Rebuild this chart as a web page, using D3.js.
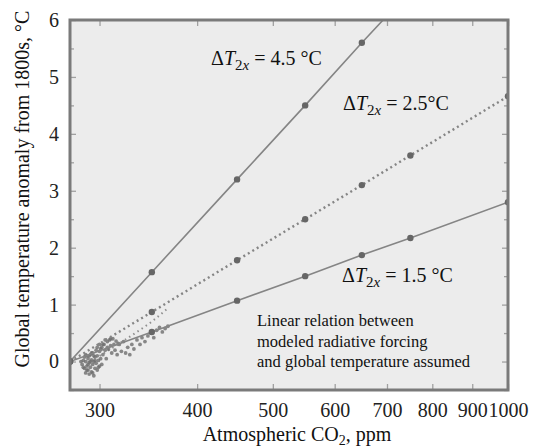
<!DOCTYPE html>
<html><head><meta charset="utf-8">
<script src="https://cdn.jsdelivr.net/npm/d3@7"></script>
<style>
body{margin:0;background:#fff}
svg{display:block}
svg text{font-family:"Liberation Serif","Times New Roman",serif}
</style>
</head><body>
<svg id="c" width="538" height="447"></svg>
<script>
// ---- data ----
const xTicks = [300, 400, 500, 600, 700, 800, 900, 1000];
const yTicks = [0, 1, 2, 3, 4, 5, 6];
const yMinorTicks = [-0.5, 0.5, 1.5, 2.5, 3.5, 4.5, 5.5];

const co2_45 = [275, 350, 450, 550, 650, 692];
const t_45   = [0, 1.57, 3.2, 4.5, 5.6, 6.0];
const marks_45 = [275, 350, 450, 550, 650];

const co2_25 = [275, 350, 450, 550, 650, 750, 1000];
const t_25   = [0, 0.87, 1.78, 2.5, 3.1, 3.62, 4.66];

const co2_15 = [275, 350, 450, 550, 650, 750, 1000];
const t_15   = [0, 0.52, 1.07, 1.5, 1.87, 2.17, 2.8];

const obsCO2 = [284,285,286,286,287,287,288,288,288,289,289,289,290,290,290,291,291,291,292,292,292,293,293,293,294,294,294,295,295,295,296,296,296,297,297,298,298,298,299,299,300,300,300,301,301,302,302,303,303,304,305,305,306,307,307,308,309,310,310,311,312,313,314,315,316,317,318,320,322,324,326,328,330,332,335,338,340,343,346,349,352,355,358,361,364,367];
const obsT   = [0.0,-0.05,0.02,-0.1,-0.12,0.08,-0.2,0.0,0.12,-0.08,0.1,-0.15,-0.15,0.05,-0.05,-0.02,-0.22,0.1,0.12,-0.1,0.0,0.03,-0.18,0.15,0.15,-0.05,-0.2,0.0,-0.25,0.1,0.08,-0.12,0.02,0.2,-0.03,-0.15,0.1,0.25,0.02,-0.1,-0.08,0.18,0.3,0.05,0.22,0.25,-0.05,0.12,0.3,0.3,0.2,0.38,0.05,0.35,0.25,0.22,0.38,0.28,0.4,0.15,0.4,0.3,0.2,0.36,0.12,0.32,0.3,0.18,0.35,0.15,0.25,0.12,0.3,0.22,0.38,0.3,0.42,0.35,0.45,0.5,0.42,0.55,0.6,0.52,0.58,0.62];

const transCO2 = [300, 310, 320, 330, 340, 350, 360, 367];
const transT   = [0.1, 0.22, 0.34, 0.46, 0.58, 0.7, 0.84, 0.94];

const seriesLabels = ["= 4.5 °C", "= 2.5°C", "= 1.5 °C"];
const noteLines = ["Linear relation between", "modeled radiative forcing", "and global temperature assumed"];
const xTitle = "Atmospheric CO";
const yTitle = "Global temperature anomaly from 1800s, °C";

// ---- layout ----
const W = 538, H = 447;
const m = {l: 70, t: 20, r: 30, b: 57};
const FONT = '"Liberation Serif","Times New Roman",serif';
const svg = d3.select("#c");
const x = d3.scaleLog().domain([275, 1000]).range([m.l, W - m.r]);
const y = d3.scaleLinear().domain([-0.5, 6]).range([H - m.b, m.t]);
const frame = "#7a7a7a";

svg.append("rect").attr("x", m.l).attr("y", m.t)
  .attr("width", W - m.l - m.r).attr("height", H - m.t - m.b).attr("fill", "#ececec");

svg.append("clipPath").attr("id", "clip").append("rect")
  .attr("x", m.l).attr("y", m.t).attr("width", W - m.l - m.r).attr("height", H - m.t - m.b);

const tickCol = "#a0a0a0";
function styleAxis(g){
  g.attr("font-family", FONT).attr("font-size", 20);
  g.select(".domain").remove();
  g.selectAll(".tick line").attr("stroke", tickCol).attr("stroke-width", 1.3);
  g.selectAll(".tick text").attr("fill", "#222");
}
svg.append("g").attr("transform", `translate(0,${H - m.b})`)
  .call(d3.axisBottom(x).tickValues(xTicks).tickFormat(d3.format("d")).tickSizeInner(-6).tickPadding(13))
  .call(styleAxis);
svg.append("g").attr("transform", `translate(0,${m.t})`)
  .call(d3.axisTop(x).tickValues(xTicks).tickFormat("").tickSizeInner(-6))
  .call(styleAxis);
svg.append("g").attr("transform", `translate(${m.l},0)`)
  .call(d3.axisLeft(y).tickValues(yTicks).tickFormat(d3.format("d")).tickSizeInner(-6).tickPadding(11))
  .call(styleAxis);
svg.append("g").attr("transform", `translate(${m.l},0)`)
  .call(d3.axisLeft(y).tickValues(yMinorTicks).tickFormat("").tickSizeInner(-4))
  .call(styleAxis);
svg.append("g").attr("transform", `translate(${W - m.r},0)`)
  .call(d3.axisRight(y).tickValues(yTicks).tickFormat("").tickSizeInner(-6))
  .call(styleAxis);
svg.append("g").attr("transform", `translate(${W - m.r},0)`)
  .call(d3.axisRight(y).tickValues(yMinorTicks).tickFormat("").tickSizeInner(-4))
  .call(styleAxis);

const plot = svg.append("g").attr("clip-path", "url(#clip)");

const line = d3.line().x(d => x(d[0])).y(d => y(d[1]));
plot.append("path").datum(transCO2.map((c, i) => [c, transT[i]])).attr("d", line)
  .attr("fill", "none").attr("stroke", "#8f8f8f").attr("stroke-width", 2).attr("stroke-dasharray", "1.5,3.5");

plot.selectAll("circle.obs").data(obsCO2.map((c, i) => [c, obsT[i]])).join("circle")
  .attr("class", "obs").attr("cx", d => x(d[0])).attr("cy", d => y(d[1])).attr("r", 1.9)
  .attr("fill", "#6e6e6e").attr("opacity", 0.8);

function series(co2, t, dash, markCO2){
  const pts = co2.map((c, i) => [c, t[i]]);
  const p = plot.append("path").datum(pts).attr("d", line).attr("fill", "none")
    .attr("stroke", "#858585").attr("stroke-width", dash ? 2.4 : 1.6);
  if (dash) p.attr("stroke-dasharray", dash);
  const mk = pts.filter(d => markCO2.includes(d[0]));
  plot.selectAll(null).data(mk).join("circle")
    .attr("cx", d => x(d[0])).attr("cy", d => y(d[1])).attr("r", 3.2)
    .attr("fill", "#666");
}
series(co2_45, t_45, null, marks_45);
series(co2_25, t_25, "2,3.2", co2_25);
series(co2_15, t_15, null, co2_15);

svg.append("rect").attr("x", m.l).attr("y", m.t)
  .attr("width", W - m.l - m.r).attr("height", H - m.t - m.b)
  .attr("fill", "none").attr("stroke", frame).attr("stroke-width", 3);

function dLabel(px, py, txt){
  const t = svg.append("text").attr("x", px).attr("y", py).attr("font-size", 20).attr("fill", "#111");
  t.append("tspan").text("Δ");
  t.append("tspan").attr("font-style", "italic").text("T");
  t.append("tspan").attr("font-size", 15).attr("dy", 5).text("2");
  t.append("tspan").attr("font-size", 15).attr("font-style", "italic").text("x");
  t.append("tspan").attr("dy", -5).text(" " + txt);
}
dLabel(211, 65, seriesLabels[0]);
dLabel(343, 110, seriesLabels[1]);
dLabel(342, 282, seriesLabels[2]);

svg.append("g").selectAll("text").data(noteLines).join("text")
  .attr("x", 257).attr("y", (d, i) => 326 + i * 20.5)
  .attr("font-size", 16.5).attr("fill", "#111").text(d => d);

const xt = svg.append("text").attr("x", 297).attr("y", 441).attr("text-anchor", "middle")
  .attr("font-size", 20).attr("fill", "#111");
xt.append("tspan").text(xTitle);
xt.append("tspan").attr("font-size", 14).attr("dy", 4).text("2");
xt.append("tspan").attr("dy", -4).text(", ppm");

svg.append("text").attr("transform", "translate(29,189) rotate(-90)").attr("text-anchor", "middle")
  .attr("font-size", 20).attr("fill", "#111").text(yTitle);
</script>
</body></html>
